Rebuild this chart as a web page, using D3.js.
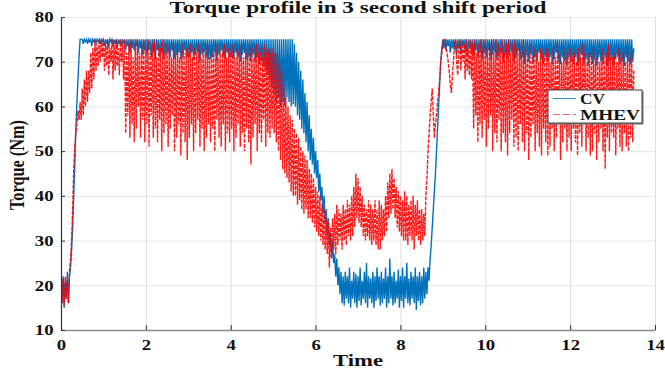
<!DOCTYPE html>
<html>
<head>
<meta charset="utf-8">
<script src="https://d3js.org/d3.v7.min.js"></script>
<style>
    body { margin: 0; background: #fff; }
    svg text { font-family: "Liberation Serif", "Times New Roman", Times, serif; font-weight: bold; fill: #111; }
</style>
</head>
<body>
<svg id="drawing_region"></svg>
<script>
// sample spacing of the logged torque (s)
const timeStep = 0.025;

// CV torque, one value per sample (Nm), 20 samples per line
const cvTorque = [
    20, 16, 22, 15, 21, 17, 23, 16, 22, 24, 28, 33, 40, 47, 55, 61, 66, 71, 75, 75,
    75, 74, 75, 74.5, 75, 74, 75, 74.5, 75, 73.5, 75, 74.5, 75, 74, 75, 74.5, 75, 74, 75, 74.5,
    75, 73.5, 75, 74, 75, 73, 75, 74.5, 75, 73.5, 75, 74, 75, 73, 75, 74, 75, 73.5, 75, 74,
    75, 72.5, 75, 73.5, 75, 72, 75, 73, 75, 72.5, 75, 73.5, 75, 72, 75, 73, 75, 71.5, 75, 72.5,
    75, 71.5, 75, 72.5, 75, 71, 75, 72, 75, 70.5, 75, 72.5, 75, 71, 75, 72, 75, 70.5, 75, 71.5,
    75, 72, 75, 71, 75, 72.5, 75, 70.5, 75, 71.5, 75, 72, 75, 70.5, 75, 71, 75, 72.5, 75, 71,
    75, 71, 75, 72, 75, 70.5, 75, 71.5, 75, 72, 75, 70, 75, 71.5, 75, 72, 75, 71, 75, 70.5,
    75, 70.5, 75, 71, 75, 72, 75, 70, 75, 71.5, 75, 72.5, 75, 71, 75, 70.5, 75, 72, 75, 71,
    75, 71, 75, 70.5, 75, 72, 75, 71, 75, 70, 75, 71.5, 75, 72, 75, 70.5, 75, 71, 75, 70,
    75, 71.5, 75, 70, 75, 71, 75, 69.5, 75, 70, 75, 69, 75, 68, 75, 67, 75, 66, 75, 64,
    75, 63, 75, 61, 75, 62, 75, 60, 75, 61, 75, 60, 75, 62, 75, 61, 75, 60, 75, 60.5,
    74, 60, 72, 58, 70, 57, 68, 55, 66, 54, 63, 52, 61, 50, 58, 48, 55, 47, 53, 45,
    50, 44, 48, 41, 45, 39, 42, 36, 40, 34, 37, 31, 35, 29, 32, 26, 30, 25, 27, 22,
    26, 20, 24, 18, 23, 16, 22, 15.5, 23, 17, 22, 16, 24, 15, 21, 17, 23, 16, 22.5, 15,
    22, 16.5, 24, 15.5, 21, 17, 23, 16, 25, 15, 22, 17, 21.5, 16, 23, 15, 22, 16.5, 24, 17,
    22, 15.5, 23, 16, 21.5, 17, 24, 15, 22, 16, 26, 17, 22, 15.5, 23, 16, 21, 17, 23.5, 15,
    22, 16.5, 24, 15, 22, 17, 25, 16, 21.5, 15.5, 23, 17, 22, 16, 24, 14.5, 22, 16.5, 23, 15.5,
    22, 16, 24, 17, 23, 18, 24, 21, 26, 29, 33, 37, 41, 45, 50, 55, 60, 65, 70, 73,
    75, 73, 75, 72.5, 75, 73.5, 75, 72, 75, 73, 75, 72.5, 75, 71.5, 75, 73, 75, 72, 75, 73.5,
    75, 72, 75, 71.5, 75, 73, 75, 72, 75, 71, 75, 72.5, 75, 71, 75, 72, 75, 70.5, 75, 72,
    75, 71, 75, 72.5, 75, 70.5, 75, 71.5, 75, 72, 75, 70.5, 75, 71, 75, 72, 75, 70, 75, 71.5,
    75, 70.5, 75, 71.5, 75, 72, 75, 70, 75, 71, 75, 72.5, 75, 70.5, 75, 71, 75, 69.5, 75, 71.5,
    75, 70, 75, 71.5, 75, 69.5, 75, 71, 75, 70, 75, 72, 75, 70.5, 75, 69.5, 75, 71, 75, 70,
    75, 71, 75, 69.5, 75, 70.5, 75, 72, 75, 70, 75, 69.5, 75, 71, 75, 70, 75, 69, 75, 71,
    75, 70, 75, 69.5, 75, 71, 75, 69, 75, 70, 75, 71.5, 75, 69.5, 75, 70.5, 75, 69, 75, 71,
    75, 69.5, 75, 70.5, 75, 69, 75, 71, 75, 70, 75, 69.5, 75, 71, 75, 69, 75, 70, 75, 70.5,
    75, 69, 75, 70.5, 75, 71, 75, 69.5, 75, 70, 75, 69, 75, 71, 75, 70, 75, 69.5, 75, 70,
    73
];

// MHEV torque, one value per sample (Nm), 20 samples per line
const mhevTorque = [
    20, 16, 21.5, 15.5, 22, 17, 21, 16, 23, 26, 30, 37, 46, 51, 54, 56, 59, 57, 61, 57,
    64, 58, 66, 60, 68, 61, 68, 63, 72, 64, 73, 66, 75, 68, 74, 69, 75, 70, 75, 71,
    75, 68, 74, 69, 75, 67, 73, 70, 75, 66, 74, 68, 75, 69, 73, 67, 75, 70, 74, 66,
    75, 54, 72, 58, 74, 53, 75, 56, 71, 52, 74, 55, 75, 60, 72, 53, 74, 57, 75, 52,
    73, 56, 75, 51, 72, 58, 74, 53, 75, 55, 71, 52, 74, 57, 73, 50, 75, 54, 72, 56,
    74, 51, 73, 55, 71, 58, 74, 50, 72, 53, 73, 56, 71, 49, 74, 54, 72, 52, 73, 48,
    72, 53, 74, 56, 71, 50, 73, 54, 72, 57, 74, 51, 71, 55, 73, 50, 72, 53, 74, 56,
    71, 52, 73, 55, 72, 50, 74, 57, 71, 53, 73, 51, 72, 56, 74, 50, 71, 54, 73, 52,
    72, 55, 74, 50, 71, 53, 73, 56, 72, 51, 74, 54, 71, 50, 73, 55, 72, 52, 74, 47,
    73, 53, 71, 56, 74, 50, 72, 54, 73, 52, 71, 57, 74, 51, 72, 54, 73, 53, 72, 55,
    73, 54, 72, 52, 72, 50, 70, 48, 68, 46, 65, 45, 62, 44, 60, 43, 58, 41, 57, 40,
    55, 40, 54, 38, 53, 39, 51, 37, 50, 36, 49, 37, 48, 35, 46, 35, 45, 34, 44, 33,
    42, 32, 41, 31, 40, 30, 38, 29, 37, 28, 35, 27, 34, 24, 33, 26, 35, 28, 36, 27,
    38, 29, 37, 30, 36, 28, 38, 30, 37, 29, 39, 31, 38, 30, 40, 31, 42, 33, 45, 35,
    44, 34, 42, 33, 40, 31, 38, 30, 37, 31, 39, 30, 38, 29, 37, 30, 39, 29, 37, 28,
    39, 28, 38, 30, 37, 31, 40, 32, 43, 35, 45, 36, 46, 37, 44, 35, 42, 33, 41, 32,
    40, 31, 39, 30, 41, 30, 40, 29, 38, 31, 39, 30, 40, 28, 38, 31, 39, 30, 37, 29,
    37, 30, 36, 31, 40, 44, 50, 54, 58, 61, 64, 58, 53, 56, 58, 61, 63, 66, 70, 72,
    74, 75, 75, 73, 72, 70, 68, 65, 63, 67, 70, 74, 75, 70, 67, 73, 75, 68, 74, 70,
    74, 66, 75, 68, 73, 67, 75, 66, 74, 55, 75, 58, 72, 52, 74, 56, 75, 53, 73, 57,
    75, 51, 73, 55, 74, 58, 75, 50, 72, 54, 75, 52, 74, 57, 73, 50, 75, 54, 72, 52,
    74, 49, 75, 54, 72, 57, 74, 51, 75, 53, 73, 50, 74, 56, 72, 52, 75, 50, 73, 54,
    72, 48, 74, 53, 71, 56, 73, 50, 72, 54, 70, 51, 73, 49, 72, 55, 71, 52, 73, 49,
    72, 51, 70, 55, 73, 50, 71, 53, 74, 56, 72, 48, 70, 52, 73, 55, 71, 50, 72, 53,
    73, 50, 71, 55, 72, 52, 70, 49, 73, 54, 71, 51, 74, 56, 72, 50, 70, 53, 72, 49,
    72, 50, 73, 54, 71, 48, 72, 52, 70, 55, 73, 50, 71, 46, 72, 53, 74, 50, 71, 54,
    71, 53, 72, 49, 70, 55, 73, 51, 71, 50, 72, 54, 70, 51, 73, 50, 71, 53, 72, 52,
    68
];

const seriesNames = ['CV', 'MHEV'];
const xTicks = [0, 2, 4, 6, 8, 10, 12, 14];
const yTicks = [10, 20, 30, 40, 50, 60, 70, 80];
const titleText = 'Torque profile in 3 second shift period';

const config = {
    parent: '#drawing_region',
    width: 665,
    height: 370,
    margin: {top:17, right:10, bottom:40, left:61}
};

const svg = d3.select(config.parent)
    .attr('width', config.width)
    .attr('height', config.height);

const inner_width = config.width - config.margin.left - config.margin.right;
const inner_height = config.height - config.margin.top - config.margin.bottom;

const chart = svg.append('g')
    .attr('transform', `translate(${config.margin.left}, ${config.margin.top})`);

const xscale = d3.scaleLinear().domain([0, 14]).range([0, inner_width]);
const yscale = d3.scaleLinear().domain([10, 80]).range([inner_height, 0]);

// grid
chart.append('g')
    .attr('transform', `translate(0, ${inner_height})`)
    .call(d3.axisBottom(xscale).tickValues(xTicks).tickSize(-inner_height).tickFormat(''))
    .call(g => g.select('.domain').remove())
    .selectAll('line').attr('stroke', '#dedede');
chart.append('g')
    .call(d3.axisLeft(yscale).tickValues(yTicks).tickSize(-inner_width).tickFormat(''))
    .call(g => g.select('.domain').remove())
    .selectAll('line').attr('stroke', '#e6e6e6');

chart.append('clipPath').attr('id', 'plot-clip')
    .append('rect').attr('x', 0).attr('y', -1).attr('width', inner_width).attr('height', inner_height + 2);

const line = d3.line()
    .x((d, i) => xscale(i * timeStep))
    .y(d => yscale(d));

const plot = chart.append('g').attr('clip-path', 'url(#plot-clip)');

plot.append('path')
    .datum(cvTorque)
    .attr('fill', 'none')
    .attr('stroke', '#0072BD')
    .attr('stroke-width', 1.4)
    .attr('d', line);

plot.append('path')
    .datum(mhevTorque)
    .attr('fill', 'none')
    .attr('stroke', '#ff0000')
    .attr('stroke-opacity', 0.9)
    .attr('stroke-width', 1.4)
    .attr('stroke-dasharray', '4,1.2')
    .attr('d', line);

// axes
const xaxis_group = chart.append('g')
    .attr('transform', `translate(0, ${inner_height})`)
    .call(d3.axisBottom(xscale).tickValues(xTicks).tickSize(-5).tickPadding(9).tickSizeOuter(0));
xaxis_group.attr('font-family', null);
xaxis_group.select('.domain').attr('stroke', '#8c8c8c').attr('stroke-width', 1.5);
xaxis_group.selectAll('.tick line').attr('stroke', '#333');
xaxis_group.selectAll('text')
    .attr('font-size', 15)
    .attr('transform', 'scale(1.25,1)');

const yaxis_group = chart.append('g')
    .call(d3.axisLeft(yscale).tickValues(yTicks).tickSize(-4).tickPadding(6).tickSizeOuter(0));
yaxis_group.attr('font-family', null);
yaxis_group.select('.domain').attr('stroke', '#333').attr('stroke-width', 1.2);
yaxis_group.selectAll('.tick line').attr('stroke', '#333');
yaxis_group.selectAll('text')
    .attr('font-size', 15)
    .attr('transform', 'scale(1.25,1)');

// title and labels
svg.append('text')
    .attr('x', 358).attr('y', 12.5)
    .attr('text-anchor', 'middle')
    .attr('font-size', 16)
    .attr('textLength', 377).attr('lengthAdjust', 'spacingAndGlyphs')
    .text(titleText);

svg.append('text')
    .attr('x', 358).attr('y', 366)
    .attr('text-anchor', 'middle')
    .attr('font-size', 17)
    .attr('textLength', 50).attr('lengthAdjust', 'spacingAndGlyphs')
    .text('Time');

svg.append('text')
    .attr('transform', 'translate(24,165) scale(1.3,1) rotate(-90)')
    .attr('text-anchor', 'middle')
    .attr('font-size', 16)
    .attr('textLength', 90).attr('lengthAdjust', 'spacingAndGlyphs')
    .text('Torque (Nm)');

// legend
const legend = svg.append('g').attr('transform', 'translate(548, 90)');
legend.append('rect')
    .attr('x', 1.5).attr('y', 1.5).attr('width', 94).attr('height', 33)
    .attr('fill', '#777');
legend.append('rect')
    .attr('x', 0).attr('y', 0).attr('width', 94).attr('height', 33)
    .attr('fill', '#fff').attr('stroke', '#444').attr('stroke-width', 1);
const legendStyles = [
    {color: '#0072BD', dash: null, width: 25},
    {color: '#ff0000', dash: '7,3', width: 60}
];
seriesNames.forEach((name, i) => {
    const y = 8.5 + i * 16;
    legend.append('line')
        .attr('x1', 5).attr('x2', 28).attr('y1', y).attr('y2', y)
        .attr('stroke', legendStyles[i].color)
        .attr('stroke-opacity', i === 1 ? 0.6 : 0.8)
        .attr('stroke-dasharray', legendStyles[i].dash);
    legend.append('text')
        .attr('x', 32).attr('y', y + 5.5)
        .attr('font-size', 14)
        .attr('textLength', legendStyles[i].width).attr('lengthAdjust', 'spacingAndGlyphs')
        .text(name);
});
</script>
</body>
</html>
